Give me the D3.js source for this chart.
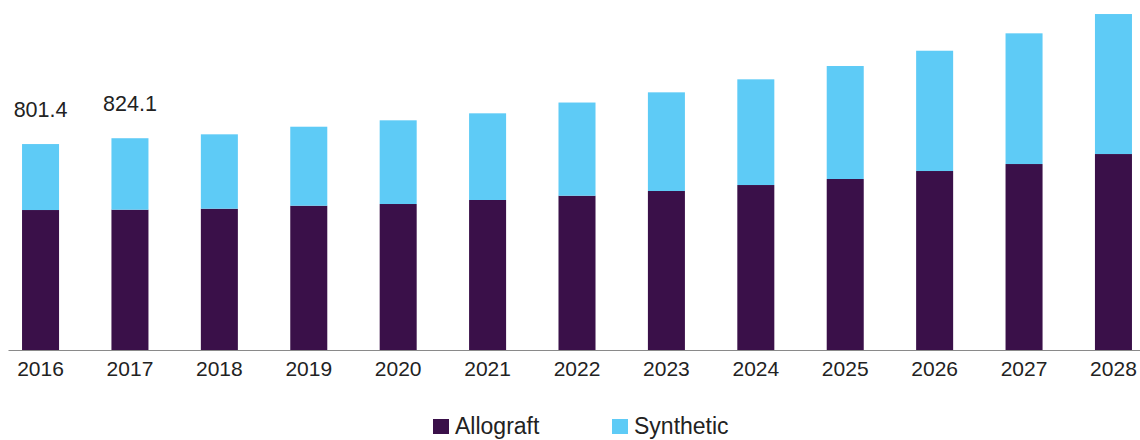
<!DOCTYPE html>
<html>
<head>
<meta charset="utf-8">
<script src="https://cdn.jsdelivr.net/npm/d3@7"></script>
<style>
  body { margin: 0; background: #fff; }
  svg { display: block; font-family: "Liberation Sans", Arial, sans-serif; }
</style>
</head>
<body>
<svg id="chart" width="1140" height="440"></svg>
<script>
// data
const years = ["2016", "2017", "2018", "2019", "2020", "2021", "2022", "2023", "2024", "2025", "2026", "2027", "2028"];
const allograft = [544.7, 546.0, 549.8, 561.5, 568.1, 583.7, 600.4, 618.7, 642.0, 665.4, 696.5, 723.7, 762.6];
const synthetic = [256.7, 278.1, 289.5, 307.4, 325.7, 337.3, 362.6, 384.0, 411.3, 439.7, 468.1, 508.6, 544.8];
const labeledYears = ["2016", "2017"];
const seriesNames = ["Allograft", "Synthetic"];
const colors = ["#3a1049", "#5ecbf6"];

const svg = d3.select("#chart");
const baseY = 350;

// スケール
const x = d3.scaleBand()
    .domain(years)
    .range([8, 1146])
    .paddingInner(0.586)
    .paddingOuter(0.157);

const y = d3.scaleLinear()
    .domain([0, 1362])
    .range([baseY, 0]);

// 積み上げデータ
const rows = years.map((yr, i) => ({ year: yr, Allograft: allograft[i], Synthetic: synthetic[i] }));
const stacked = d3.stack().keys(seriesNames)(rows);

svg.append("g")
    .selectAll("g")
    .data(stacked)
    .join("g")
    .attr("fill", (d, i) => colors[i])
    .selectAll("rect")
    .data(d => d)
    .join("rect")
    .attr("x", d => x(d.data.year))
    .attr("y", d => y(d[1]))
    .attr("width", x.bandwidth())
    .attr("height", d => y(d[0]) - y(d[1]));

// 合計ラベル
const fmt = d3.format(".1f");
svg.append("g")
    .selectAll("text")
    .data(rows.filter(r => labeledYears.includes(r.year)))
    .join("text")
    .attr("x", d => x(d.year) + x.bandwidth() / 2)
    .attr("y", d => y(d.Allograft + d.Synthetic) - 27)
    .attr("text-anchor", "middle")
    .attr("fill", "#222")
    .style("font-size", "21.5px")
    .text(d => fmt(d.Allograft + d.Synthetic));

// X軸
const xAxis = svg.append("g")
    .attr("transform", `translate(0,${baseY})`)
    .call(d3.axisBottom(x).tickSize(0).tickSizeOuter(0).tickPadding(11));
xAxis.select(".domain").attr("stroke", "#8a8a8a").attr("stroke-width", 1.2);
xAxis.selectAll("text")
    .attr("fill", "#222")
    .style("font-size", "21px")
    .style("font-family", "'Liberation Sans', Arial, sans-serif");

// 凡例
const legendX = [433, 612];
const legend = svg.append("g");
seriesNames.forEach((name, i) => {
    legend.append("rect")
        .attr("x", legendX[i]).attr("y", 419)
        .attr("width", 16).attr("height", 15)
        .attr("fill", colors[i]);
    legend.append("text")
        .attr("x", legendX[i] + 22).attr("y", 434)
        .attr("fill", "#222")
        .style("font-size", "23px")
        .text(name);
});
</script>
</body>
</html>
